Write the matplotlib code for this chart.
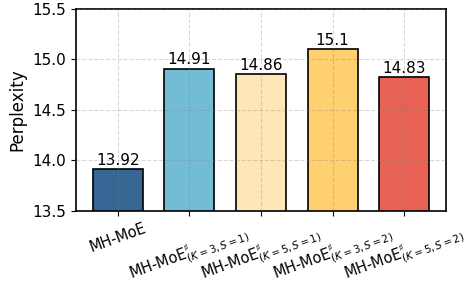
import matplotlib
matplotlib.use('Agg')
import matplotlib.pyplot as plt

labels = ['MH-MoE',
          r'MH-MoE$^\sharp_{(K=3,S=1)}$',
          r'MH-MoE$^\sharp_{(K=5,S=1)}$',
          r'MH-MoE$^\sharp_{(K=3,S=2)}$',
          r'MH-MoE$^\sharp_{(K=5,S=2)}$']
values = [13.92, 14.91, 14.86, 15.1, 14.83]
colors = ['#376795', '#72BCD5', '#FFE6B7', '#FFD06F', '#E76254']


def main():
    fig, ax = plt.subplots(figsize=(4.69, 2.87), dpi=100)
    x = range(len(values))
    bars = ax.bar(x, values, width=0.7, color=colors, edgecolor='black',
                  linewidth=1.2, zorder=1)
    for b, v in zip(bars, values):
        ax.text(b.get_x() + b.get_width() / 2, v + 0.01, f'{v:g}',
                ha='center', va='bottom', fontsize=11, zorder=4)
    ax.set_ylim(13.5, 15.5)
    ax.set_yticks([13.5, 14.0, 14.5, 15.0, 15.5])
    ax.set_xticks(list(x))
    ax.set_xticklabels(labels, rotation=20, ha='center', fontsize=10.5)
    ax.tick_params(axis='y', labelsize=11)
    ax.set_ylabel('Perplexity', fontsize=12)
    ax.set_axisbelow(False)
    ax.grid(True, linestyle='--', color='gray', alpha=0.3, linewidth=0.8, zorder=2)
    for s in ax.spines.values():
        s.set_linewidth(1.2)
    fig.subplots_adjust(left=0.162, right=0.951, top=0.969, bottom=0.265)
    fig.savefig('out.png', dpi=100)


if __name__ == "__main__":
    main()
